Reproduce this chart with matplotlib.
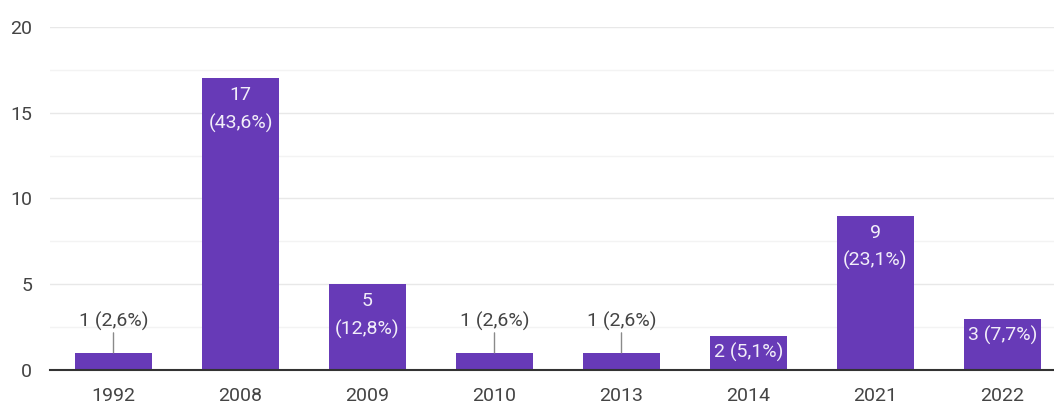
import matplotlib
matplotlib.use("Agg")
import matplotlib.pyplot as plt
import numpy as np

years = ["1992", "2008", "2009", "2010", "2013", "2014", "2021", "2022"]
counts = [1, 17, 5, 1, 1, 2, 9, 3]
labels = ["1 (2,6%)", "17\n(43,6%)", "5\n(12,8%)", "1 (2,6%)", "1 (2,6%)",
          "2 (5,1%)", "9\n(23,1%)", "3 (7,7%)"]
y_ticks = [0, 5, 10, 15, 20]

plt.rcParams['font.family'] = ['Roboto', 'DejaVu Sans']

W, H = 1054, 405
PX = 0.72  # points per pixel at 100 dpi
fig = plt.figure(figsize=(W / 100, H / 100), dpi=100)
left, right = 50 / W, 1066 / W
bottom, top = (H - 370) / H, (H - 27) / H
ax = fig.add_axes([left, bottom, right - left, top - bottom])

bar_color = "#673ab7"
x = np.arange(len(years))
ax.bar(x, counts, width=0.61, color=bar_color, zorder=3)

FS = 14
ax.set_xlim(-0.5, len(years) - 0.5)
ax.set_ylim(0, 20)
ax.set_yticks(y_ticks)
ax.set_yticks([2.5, 7.5, 12.5, 17.5], minor=True)
ax.set_yticklabels([str(t) for t in y_ticks], fontsize=FS, color="#444444")
ax.set_xticks(x)
ax.set_xticklabels(years, fontsize=FS, color="#444444")
ax.tick_params(axis='y', which='both', length=0, pad=18 * PX)
ax.tick_params(axis='x', length=0, pad=12)
ax.grid(axis='y', which='major', color="#e8e8e8", lw=1, zorder=0)
ax.grid(axis='y', which='minor', color="#f3f3f3", lw=1, zorder=0)
for s in ["top", "right", "left"]:
    ax.spines[s].set_visible(False)
ax.spines["bottom"].set_color("#333333")
ax.spines["bottom"].set_linewidth(1.5)
ax.spines["bottom"].set_zorder(4)

inside_color = "#f2eef9"
for xi, c, lab in zip(x, counts, labels):
    if c >= 2:
        for k, line in enumerate(lab.split("\n")):
            ax.annotate(line, xy=(xi, c), xytext=(0, -(17 + 28 * k) * PX),
                        textcoords="offset points", ha="center", va="center",
                        fontsize=FS, color=inside_color, zorder=5)
    else:
        ax.annotate(lab, xy=(xi, c), xytext=(0, 31 * PX), textcoords="offset points",
                    ha="center", va="center", fontsize=FS, color="#444444", zorder=5)
        ax.annotate("", xy=(xi, c), xytext=(0, 20 * PX), textcoords="offset points",
                    arrowprops=dict(arrowstyle="-", color="#8a8a8a", lw=1,
                                    shrinkA=0, shrinkB=0),
                    zorder=5)

fig.savefig("out.png", dpi=100, facecolor="white")
